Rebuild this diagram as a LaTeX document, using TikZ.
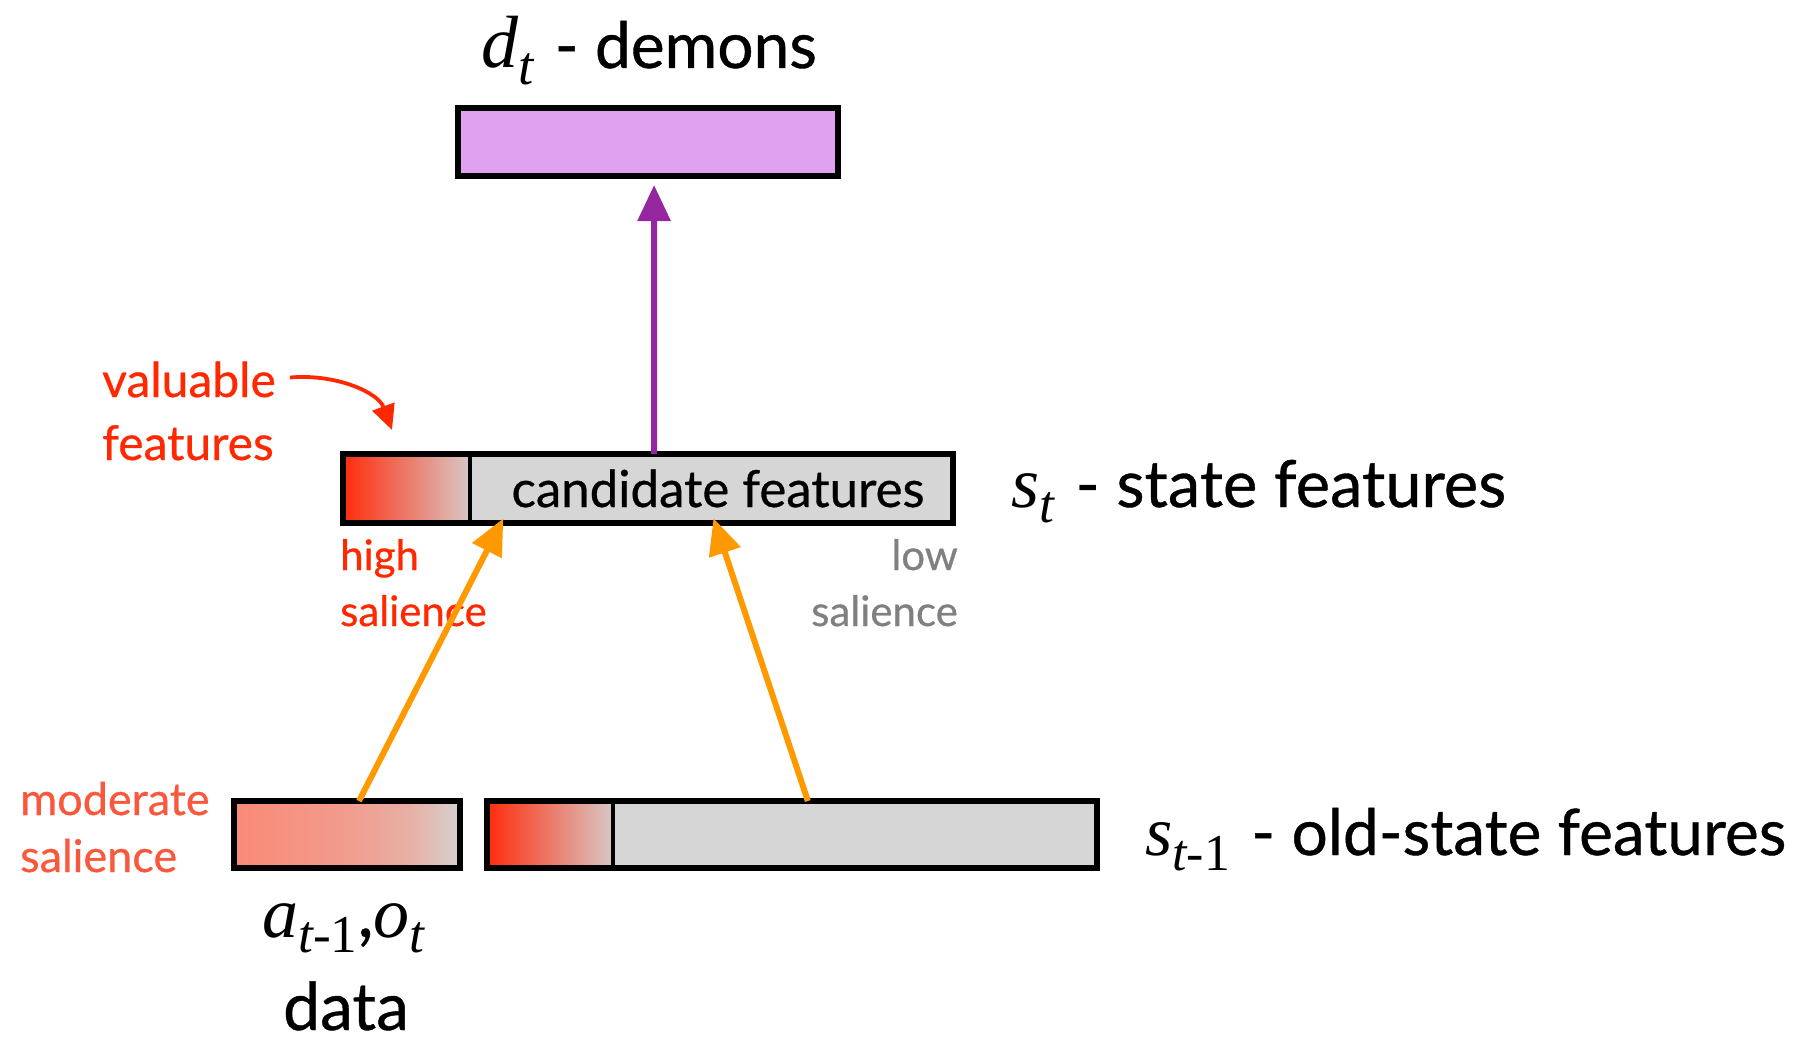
\documentclass[tikz,border=0pt]{standalone}
\usepackage{fontspec}
\usepackage{graphicx}
\setmainfont{Lato}[FakeBold=0.6]
\newfontfamily\serifmath{Liberation Serif}
\usetikzlibrary{arrows.meta,calc}

\definecolor{demonfill}{RGB}{223,161,240}
\definecolor{demonarrow}{RGB}{150,38,160}
\definecolor{cellgrey}{RGB}{214,214,214}
\definecolor{hotred}{RGB}{255,44,12}
\definecolor{fadegrey}{RGB}{216,200,198}
\definecolor{labelred}{RGB}{255,40,0}
\definecolor{softred}{RGB}{250,88,60}
\definecolor{lowgrey}{RGB}{128,128,128}
\definecolor{feed}{RGB}{255,153,0}

% salmon fade that stays warm until close to the right edge
\pgfdeclarehorizontalshading{salmonfade}{100bp}{%
  rgb(0bp)=(0.976,0.541,0.463); rgb(25bp)=(0.976,0.541,0.463);
  rgb(50bp)=(0.945,0.612,0.553); rgb(64bp)=(0.910,0.690,0.647);
  rgb(75bp)=(0.835,0.820,0.820); rgb(100bp)=(0.835,0.820,0.820)}

% italic variable and lowered subscript
\newcommand\mv[1]{{\serifmath\itshape #1}}
\newcommand\lowsub[1]{\raisebox{-0.22em}{\scalebox{0.74}{#1}}}
\newcommand\fs[1]{\fontsize{#1}{1.2\dimexpr#1pt\relax}\selectfont}
\newcommand\sepdash{\kern5pt\ -\ }

\begin{document}
\begin{tikzpicture}[x=1pt,y=-1pt,
  bar/.style={rectangle, inner sep=0pt, outer sep=0pt, anchor=north west},
  rim/.style={line width=5.5pt, draw=black},
  seam/.style={line width=3.5pt, draw=black},
  lbl/.style={inner sep=0pt, anchor=base west},
  feedarrow/.style={draw=feed, line width=6pt, -{Triangle[length=36pt,width=32pt]}},
  uparrow/.style={draw=demonarrow, line width=6pt, -{Triangle[length=36pt,width=32pt]}},
  notearrow/.style={draw=labelred, line width=3.8pt, -{Triangle[length=25pt,width=23pt]}},
]
\useasboundingbox (0,0) rectangle (1818,1041);

% demons layer
\node[bar, fill=demonfill, minimum width=380pt, minimum height=68pt] (dem) at (458,108) {};
\draw[rim] (dem.north west) rectangle (dem.south east);
\node[lbl] (demt) at (481,68) {\fs{74}\mv{d}\lowsub{\mv{t}}\fs{64}\sepdash demons};

% state features layer
\node[bar, fill=cellgrey, minimum width=610pt, minimum height=69pt] (st) at (343,454) {};
\node[bar, left color=hotred, right color=fadegrey, minimum width=127pt, minimum height=69pt] (stv) at (343,454) {};
\draw[seam] (stv.north east) -- (stv.south east);
\draw[rim] (st.north west) rectangle (st.south east);
\node[inner sep=0pt, anchor=base] (cand) at (718,507) {\fs{51}candidate features};
\node[lbl] (stt) at (1011,507) {\fs{72}\mv{s}\lowsub{\mv{t}}\fs{65}\sepdash state features};

% old state layer
\node[bar, fill=cellgrey, minimum width=610pt, minimum height=67pt] (ost) at (487,801) {};
\node[bar, left color=hotred, right color=fadegrey, minimum width=126pt, minimum height=67pt] (ostv) at (487,801) {};
\draw[seam] (ostv.north east) -- (ostv.south east);
\draw[rim] (ost.north west) rectangle (ost.south east);
\node[lbl] (ostt) at (1145,855) {\fs{70}\mv{s}\lowsub{\mv{t}{\serifmath -1}}\fs{64}\sepdash old-state features};

% data layer
\node[bar, shading=salmonfade, minimum width=226pt, minimum height=67pt] (data) at (234,801) {};
\draw[rim] (data.north west) rectangle (data.south east);
\node[lbl] (adat) at (262,937) {\fs{72}\mv{a}\lowsub{\mv{t}{\serifmath -1}},\mv{o}\lowsub{\mv{t}}};
\node[inner sep=0pt, anchor=base] (datat) at (346,1030) {\fs{66}data};

% salience labels
\node[lbl, text=labelred] (val) at (102,397) {\fs{48}valuable};
\node[lbl, text=labelred] (feat) at (102,460) {\fs{48}features};
\node[lbl, text=labelred] (high) at (340,570) {\fs{42}high};
\node[lbl, text=labelred] (hsal) at (340,626) {\fs{42}salience};
\node[inner sep=0pt, anchor=base east, text=lowgrey] (low) at (958,570) {\fs{42}low};
\node[inner sep=0pt, anchor=base east, text=lowgrey] (lsal) at (958,626) {\fs{42}salience};
\node[lbl, text=softred] (mod) at (20,815) {\fs{45}moderate};
\node[lbl, text=softred] (msal) at (20,872) {\fs{45}salience};

% connectors
\coordinate (vtip) at (392,430);
\draw[notearrow] ($(val.east)+(14,-2)$) .. controls +(45,-4) and (378,392) .. (vtip);
\draw[uparrow, shorten >=9pt] ($(st.north west)!0.51!(st.north east)$) -- ($(dem.south west)!0.516!(dem.south east)$);
\draw[feedarrow, shorten >=-5pt] ($(data.north west)!0.553!(data.north east)$) -- ($(st.south west)!0.259!(st.south east)$);
\draw[feedarrow, shorten >=-5pt] ($(ost.north west)!0.526!(ost.north east)$) -- ($(st.south west)!0.61!(st.south east)$);
\end{tikzpicture}
\end{document}
